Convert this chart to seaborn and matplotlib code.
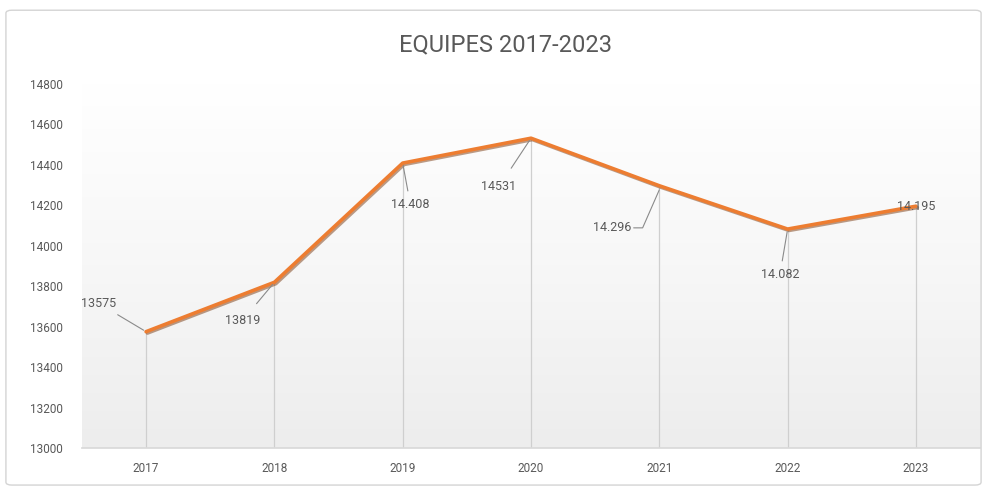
import numpy as np
import pandas as pd
import matplotlib
matplotlib.use("Agg")
import matplotlib.pyplot as plt
import matplotlib.patheffects as pe
from matplotlib.patches import FancyBboxPatch
import seaborn as sns

# ---- data ----
years = ["2017", "2018", "2019", "2020", "2021", "2022", "2023"]
values = [13575, 13819, 14408, 14531, 14296, 14082, 14195]
labels = ["13575", "13819", "14.408", "14531", "14.296", "14.082", "14.195"]
yticks = [13000, 13200, 13400, 13600, 13800, 14000, 14200, 14400, 14600, 14800]
title = "EQUIPES 2017-2023"

# label placement offsets (category units, value units)
lab_dx = [-0.37, -0.25, 0.06, -0.25, -0.37, -0.06, 0.0]
lab_dy = [140, -190, -205, -240, -208, -225, 0]

sns.set_theme(style="white")
plt.rcParams['font.family'] = ['Roboto', 'DejaVu Sans']

fig = plt.figure(figsize=(9.87, 4.87), dpi=100)
fig.patch.set_facecolor("white")
# chart border
fig.add_artist(FancyBboxPatch((0.006, 0.004), 0.988, 0.975, boxstyle="round,pad=0,rounding_size=0.006",
                              transform=fig.transFigure, fc="none", ec="#d4d4d4", lw=1.0))

ax = fig.add_axes([0.083, 0.080, 0.910, 0.748])
df = pd.DataFrame({"year": years, "value": values})
x = np.arange(len(years))

# gradient background
grad = np.linspace(0, 1, 256).reshape(-1, 1)
cmap = matplotlib.colors.LinearSegmentedColormap.from_list("g", ["#ffffff", "#f7f7f7", "#ededed"])
ax.imshow(grad, extent=[-0.5, len(years) - 0.5, 13000, 14800], aspect="auto",
          cmap=cmap, origin="upper", zorder=0)

# drop lines
ax.vlines(x, 13000, values, colors="#cfcfcf", lw=0.9, zorder=1)

sns.lineplot(data=df, x="year", y="value", ax=ax, color="#ED7D31", lw=2.6, sort=False, zorder=3,
             path_effects=[pe.SimpleLineShadow(offset=(1.0, -1.0), shadow_color="#7a3a10", alpha=0.5),
                           pe.Normal()])

for i, (v, t) in enumerate(zip(values, labels)):
    tx, ty = i + lab_dx[i], v + lab_dy[i]
    ax.text(tx, ty, t, ha="center", va="center", fontsize=9, color="#595959", zorder=5)
    if lab_dy[i] == 0:
        continue
    if i == 4:
        # elbow leader: from right of label, then up to the point
        ex = tx + 0.24
        ax.plot([tx + 0.17, ex, i], [ty, ty, v - 20], color="#8a8a8a", lw=0.8, zorder=4)
    else:
        ax.annotate("", xy=(i, v), xytext=(tx, ty),
                    arrowprops=dict(arrowstyle="-", color="#8a8a8a", lw=0.8,
                                    shrinkA=10 if abs(lab_dx[i]) < 0.1 else 16, shrinkB=2))

ax.set_xlim(-0.5, len(years) - 0.5)
ax.set_ylim(13000, 14800)
ax.set_yticks(yticks)
ax.set_yticklabels([str(t) for t in yticks])
ax.set_xlabel("")
ax.set_ylabel("")
ax.tick_params(axis="both", length=0, labelsize=8.5, labelcolor="#595959")
ax.tick_params(axis="y", pad=14)
ax.tick_params(axis="x", pad=10)
for s in ["top", "right", "left"]:
    ax.spines[s].set_visible(False)
ax.spines["bottom"].set_color("#d9d9d9")
ax.grid(False)

fig.text(0.512, 0.908, title, ha="center", va="center", fontsize=17, color="#595959")

fig.savefig("out.png", dpi=100)
